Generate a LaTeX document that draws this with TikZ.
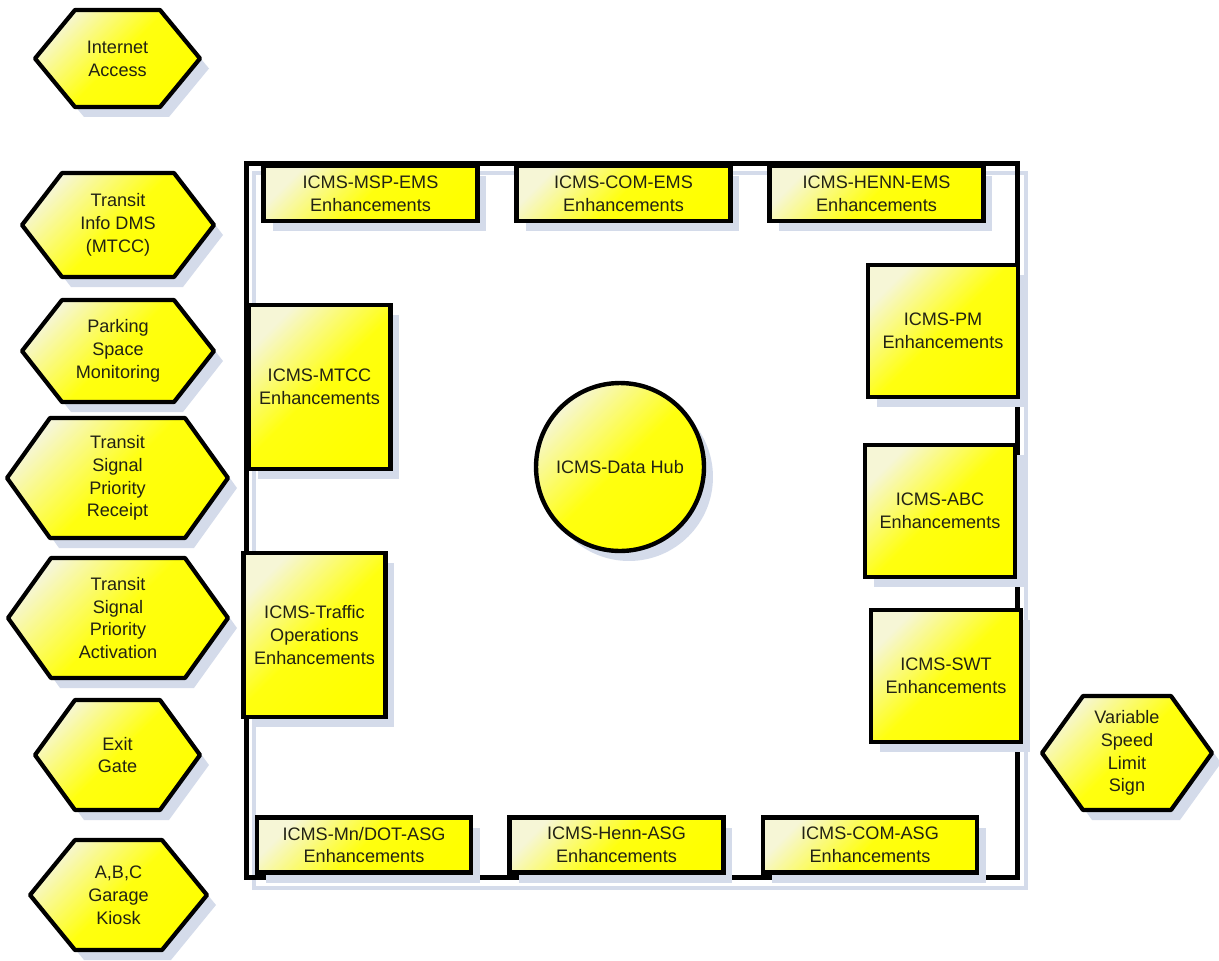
\documentclass[tikz,border=0pt]{standalone}
\usepackage{fontspec}
\setmainfont{Liberation Sans}
\usetikzlibrary{shadows}

\definecolor{shadowblue}{RGB}{212,219,234}
\definecolor{labelgray}{RGB}{34,34,20}
\definecolor{paleyellow}{RGB}{246,246,214}

\newcommand{\labelfont}{\fontsize{10.3}{13}\selectfont}

\tikzstyle{yellow fill}=[top color=paleyellow, bottom color=yellow,
    middle color=yellow!94!white, shading angle=45]
\tikzstyle{shape shadow}=[drop shadow={shadow xshift=0.18cm,
    shadow yshift=-0.2cm, fill=shadowblue, opacity=1}]
\tikzstyle{enh box}=[draw, line width=2.6pt, rectangle, yellow fill,
    shape shadow, text=labelgray, font=\labelfont, align=center, inner sep=0pt]
\tikzstyle{wide box}=[enh box, minimum width=4.28cm, minimum height=1.1cm]
\tikzstyle{tall box}=[enh box, minimum width=2.84cm, minimum height=3.28cm]
\tikzstyle{square box}=[enh box, minimum width=3cm, minimum height=2.64cm]
\tikzstyle{hub}=[draw, line width=2.5pt, circle, yellow fill, shape shadow,
    minimum size=3.36cm, text=labelgray, font=\labelfont, inner sep=0pt]
\tikzstyle{hex border}=[draw, line width=2.4pt, line join=round,
    yellow fill, shape shadow]
\tikzstyle{hex text}=[text=labelgray, font=\labelfont, align=center]
\tikzstyle{frame}=[draw, line width=2.8pt, rectangle, minimum width=15.44cm,
    minimum height=14.3cm, general shadow={shadow xshift=0.16cm,
    shadow yshift=-0.2cm, draw=shadowblue, fill=none, line width=2.4pt}]

% [slant] {centre} {half width} {half height} {name} {text}
\newcommand{\hexnode}[6][40]{
    \draw[hex border] (#2) ++(-#3,0) -- ++(#1,-#4) -- ++({2*#3-2*#1},0)
        -- ++(#1,#4) -- ++(-#1,#4) -- ++({2*#1-2*#3},0) -- cycle;
    \node[hex text] at (#2) (#5) {#6};
}

\begin{document}
\begin{tikzpicture}[x=0.02cm,y=-0.02cm]
    \useasboundingbox (0,0) rectangle (1219,960);
    %
    \node[frame] at (632,520.5) (hubframe) {};
    %
    \node[wide box] at (370.5,193.5) (mspems) {ICMS-MSP-EMS\\Enhancements};
    \node[wide box] at (623.5,193.5) (comems) {ICMS-COM-EMS\\Enhancements};
    \node[wide box] at (876.5,193.5) (hennems) {ICMS-HENN-EMS\\Enhancements};
    \node[wide box] at (364,845) (mndotasg) {ICMS-Mn/DOT-ASG\\Enhancements};
    \node[wide box] at (616.5,845) (hennasg) {ICMS-Henn-ASG\\Enhancements};
    \node[wide box] at (870,845) (comasg) {ICMS-COM-ASG\\Enhancements};
    %
    \node[tall box] at (319.5,387) (mtcc) {ICMS-MTCC\\Enhancements};
    \node[tall box] at (314.5,635) (trafficops)
        {ICMS-Traffic\\Operations\\Enhancements};
    %
    \node[square box] at (943,331) (pm) {ICMS-PM\\Enhancements};
    \node[square box] at (940,511) (abc) {ICMS-ABC\\Enhancements};
    \node[square box] at (946,676) (swt) {ICMS-SWT\\Enhancements};
    %
    \node[hub] at (620,467) (datahub) {ICMS-Data Hub};
    %
    \hexnode{117.5,58.5}{82.5}{48.5}{internet}{Internet\\Access}
    \hexnode{118,225}{96}{52}{transitdms}{Transit\\Info DMS\\(MTCC)}
    \hexnode{118,351}{96}{51}{parking}{Parking\\Space\\Monitoring}
    \hexnode[43]{117.5,478}{110.5}{60}{tspreceipt}{Transit\\Signal\\Priority\\Receipt}
    \hexnode[43]{118,618}{110}{60}{tspactivation}{Transit\\Signal\\Priority\\Activation}
    \hexnode{117.5,755}{82.5}{55}{exitgate}{Exit\\Gate}
    \hexnode[45]{118.5,895}{88.5}{55}{kiosk}{A,B,C\\Garage\\Kiosk}
    \hexnode[41]{1127,753}{85}{57}{speedsign}{Variable\\Speed\\Limit\\Sign}
\end{tikzpicture}
\end{document}
